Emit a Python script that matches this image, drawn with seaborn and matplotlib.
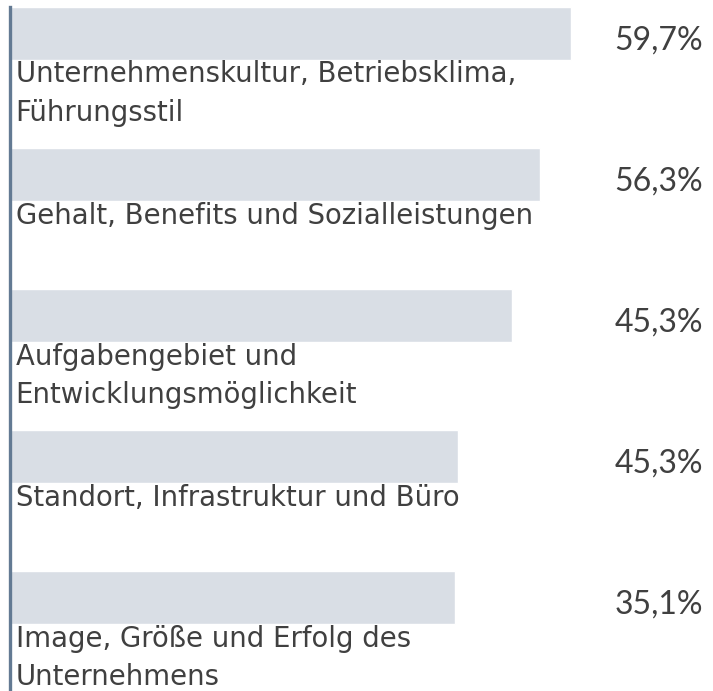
import numpy as np
import pandas as pd
import matplotlib.pyplot as plt
import seaborn as sns

# Data (bar lengths as drawn, labels as printed)
categories = [
    "Unternehmenskultur, Betriebsklima,\nFührungsstil",
    "Gehalt, Benefits und Sozialleistungen",
    "Aufgabengebiet und\nEntwicklungsmöglichkeit",
    "Standort, Infrastruktur und Büro",
    "Image, Größe und Erfolg des\nUnternehmens",
]
bar_lengths = [59.7, 56.4, 53.4, 47.6, 47.3]
pct_labels = ["59,7%", "56,3%", "45,3%", "45,3%", "35,1%"]

BAR_COLOR = "#d9dee5"
AXIS_COLOR = "#637a93"
TEXT_COLOR = "#404040"
BAR_WIDTH = 0.376

sns.set_theme(style="white")
plt.rcParams["font.family"] = ["DejaVu Sans"]

df = pd.DataFrame({"category": categories, "value": bar_lengths})

fig = plt.figure(figsize=(7.13, 6.91), dpi=100)
ax = fig.add_axes([10 / 713, 0, 693 / 713, 1])

sns.barplot(data=df, x="value", y="category", orient="h", color=BAR_COLOR,
            width=BAR_WIDTH, saturation=1, ax=ax)

ax.set_xlim(0, 73.7)
ax.set_ylim(4.66, -0.235)
ax.set_xlabel("")
ax.set_ylabel("")
ax.set_xticks([])
ax.set_yticks([])

for side in ["top", "right", "bottom"]:
    ax.spines[side].set_visible(False)
ax.spines["left"].set_color(AXIS_COLOR)
ax.spines["left"].set_linewidth(2.4)
ax.spines["left"].set_bounds(4.66, -BAR_WIDTH / 2)

for i, (cat, pct) in enumerate(zip(categories, pct_labels)):
    ax.text(0.6, i + BAR_WIDTH / 2 + 0.005, cat, ha="left", va="top",
            fontsize=19.8, color=TEXT_COLOR, linespacing=1.46)
    ax.text(1.0, i + 0.05, pct, transform=ax.get_yaxis_transform(),
            ha="right", va="center", fontsize=23, color=TEXT_COLOR,
            family=["Lato", "DejaVu Sans"])

fig.savefig("out.png", dpi=100)
